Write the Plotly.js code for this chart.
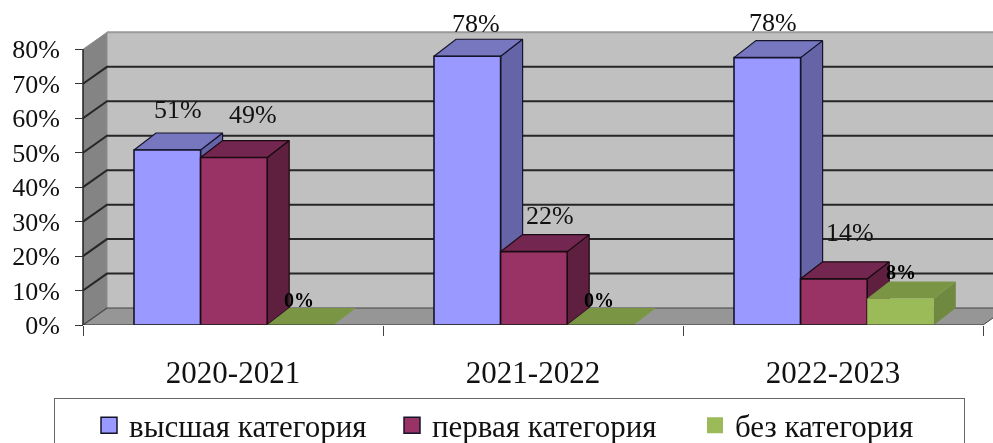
<!DOCTYPE html>
<html>
<head>
<meta charset="utf-8">
<script src="https://cdn.plot.ly/plotly-3.0.1.min.js"></script>
<style>html,body{margin:0;padding:0;background:#fff;overflow:hidden}#chart{width:993px;height:443px;filter:blur(0.5px)}</style>
</head>
<body>
<div id="chart"></div>
<script>
// --- data ---
const categories = ['2020-2021', '2021-2022', '2022-2023'];
const seriesNames = ['высшая категория', 'первая категория', 'без категория'];
const vysshaya = [50.8, 78, 77.6];
const pervaya = [48.6, 21.3, 13.4];
const bez = [0, 0, 7.7];
const vysshayaLabels = ['51%', '78%', '78%'];
const pervayaLabels = ['49%', '22%', '14%'];
const bezLabels = ['0%', '0%', '8%'];
const valueTicks = [0, 10, 20, 30, 40, 50, 60, 70, 80];

// --- styling ---
const FONT = '"Liberation Serif", serif';
const W = 993, H = 443, L = 83, AXIS_Y = 325.4, PX_PER_CAT = 300, PX_PER_VAL = 3.45;
const wallDX = 24 / PX_PER_CAT, wallDY = 17 / PX_PER_VAL;
const barDX = 22 / PX_PER_CAT, barDY = 17 / PX_PER_VAL;
const barStart = 51 / PX_PER_CAT, barW = 66.6 / PX_PER_CAT;
const xMin = -L / PX_PER_CAT, xMax = (W - L) / PX_PER_CAT, yMax = AXIS_Y / PX_PER_VAL, topV = 80;

const styles = [
  {front: '#9999FF', side: '#6464A6', top: '#7777C0', line: '#14142a', lw: 1.6},
  {front: '#993366', side: '#5F2040', top: '#73264F', line: '#1a0a12', lw: 1.6},
  {front: '#9BBB59', side: '#6F8A40', top: '#7A9644', line: 'rgba(0,0,0,0)', lw: 0}
];
const labelNudge = [
  [[0, 23], [-2, 16], [-5, 18]],
  [[8, 26], [5, 19], [5, 29]],
  [[-13, 8], [-13, 8], [-11, 9]]
];

const traces = [];
function poly(xs, ys, fill, line, lw) {
  traces.push({type: 'scatter', mode: lw ? 'lines' : 'none', x: [...xs, xs[0]], y: [...ys, ys[0]], fill: 'toself',
    fillcolor: fill, line: {color: line, width: lw}, showlegend: false, hoverinfo: 'skip'});
}
function path(xs, ys, color, width, extra) {
  traces.push(Object.assign({type: 'scatter', mode: 'lines', x: xs, y: ys, line: {color, width},
    showlegend: false, hoverinfo: 'skip'}, extra || {}));
}

// walls and floor
poly([wallDX, xMax + 0.2, xMax + 0.2, wallDX], [wallDY, wallDY, topV + wallDY, topV + wallDY], '#C0C0C0');
poly([0, wallDX, wallDX, 0], [0, wallDY, topV + wallDY, topV], '#848484');
poly([0, wallDX, 3 + wallDX, 3], [0, wallDY, wallDY, 0], '#969696');
path([wallDX, xMax + 0.2], [topV + wallDY, topV + wallDY], '#9a9a9a', 2);
path([0, wallDX, wallDX], [topV, topV + wallDY, wallDY], '#8c8c8c', 1);
// gridlines on the back and side walls
valueTicks.filter(v => v < topV).forEach(v => {
  path([0, wallDX, xMax + 0.2], [v, v + wallDY, v + wallDY], v === 0 ? '#444' : '#262626', v === 0 ? 1.2 : 2);
});
path([3, 3 + wallDX], [0, wallDY], '#444', 1);

// bars, back to front within each group
const seriesValues = [vysshaya, pervaya, bez];
categories.forEach((c, i) => {
  seriesValues.forEach((vals, s) => {
    const st = styles[s], v = vals[i];
    const x0 = i + barStart + s * barW, x1 = x0 + barW;
    if (v > 0) poly([x1, x1 + barDX, x1 + barDX, x1], [0, barDY, v + barDY, v], st.side, st.line, st.lw ? 1.2 : 0);
    poly([x0, x1, x1 + barDX, x0 + barDX], [v, v, v + barDY, v + barDY], st.top, st.line, st.lw ? 1.2 : 0);
    if (v > 0) poly([x0, x1, x1, x0], [0, 0, v, v], st.front, st.line, st.lw);
  });
});

// front axis lines
path([0, 3], [0, 0], '#333', 1, {cliponaxis: false});
path([0, 0], [0, topV], '#222', 1.5, {cliponaxis: false});

// legend entries
seriesNames.forEach((n, s) => {
  traces.push({type: 'scatter', mode: 'markers', x: [null], y: [null], name: n, showlegend: true,
    marker: {symbol: 'square', size: 16, color: styles[s].front,
      line: {color: s < 2 ? '#14142a' : styles[s].front, width: s < 2 ? 1.5 : 0}}});
});

// data labels
const annotations = [];
[vysshayaLabels, pervayaLabels, bezLabels].forEach((labs, s) => {
  labs.forEach((t, i) => {
    const [nx, ny] = labelNudge[s][i];
    annotations.push({xref: 'x', yref: 'y', x: i + barStart + (s + 0.5) * barW + barDX / 2,
      y: seriesValues[s][i] + barDY, xshift: nx, yshift: ny, showarrow: false, text: s === 2 ? '<b>' + t + '</b>' : t,
      xanchor: 'center', yanchor: 'middle',
      font: {family: FONT, size: s === 2 ? 20 : 26, color: s === 2 ? '#000' : '#111'}});
  });
});

const layout = {
  width: W, height: H,
  margin: {l: 0, r: 0, t: 0, b: H - AXIS_Y, pad: 0, autoexpand: false},
  paper_bgcolor: '#fff', plot_bgcolor: 'rgba(0,0,0,0)',
  showlegend: true,
  xaxis: {type: 'linear', range: [xMin, xMax], tickmode: 'array', tickvals: [0.5, 1.5, 2.5], ticktext: categories,
    ticks: '', showgrid: false, zeroline: false, showline: false, ticklabelstandoff: 26,
    tickfont: {family: FONT, size: 31, color: '#111'},
    minor: {tickmode: 'array', tickvals: [0, 1, 2, 3], ticks: 'outside', ticklen: 10, tickwidth: 1, tickcolor: '#444', showgrid: false}},
  yaxis: {range: [0, yMax], anchor: 'free', position: L / W, tickmode: 'array', tickvals: valueTicks, ticktext: valueTicks.map(v => v + '%'),
    ticks: 'outside', ticklen: 8, tickwidth: 1, tickcolor: '#333', ticklabelstandoff: 10,
    showgrid: false, zeroline: false, showline: false,
    tickfont: {family: FONT, size: 26, color: '#111'}},
  legend: {orientation: 'h', x: 54 / W, xanchor: 'left', y: (AXIS_Y - 398) / AXIS_Y, yanchor: 'top',
    bgcolor: '#fff', bordercolor: '#666', borderwidth: 1, entrywidth: 224, entrywidthmode: 'pixels', indentation: 34,
    font: {family: FONT, size: 31, color: '#111'}},
  annotations
};
Plotly.newPlot('chart', traces, layout, {displayModeBar: false, staticPlot: true});
</script>
</body>
</html>
